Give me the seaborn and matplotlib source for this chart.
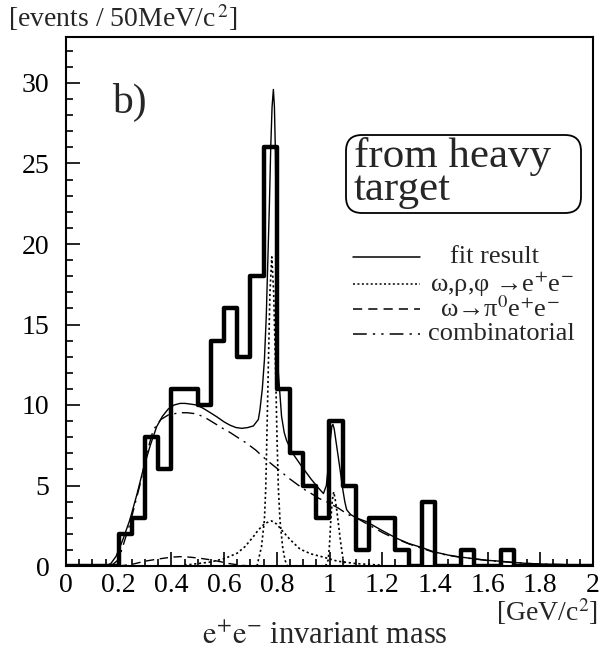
import numpy as np
import pandas as pd
import matplotlib
matplotlib.use("Agg")
import matplotlib.pyplot as plt
import seaborn as sns
from matplotlib.ticker import MultipleLocator
from matplotlib.patches import FancyBboxPatch

# ---------------- data ----------------
bin_lows = [0.00, 0.05, 0.10, 0.15, 0.20, 0.25, 0.30, 0.35, 0.40, 0.45,
            0.50, 0.55, 0.60, 0.65, 0.70, 0.75, 0.80, 0.85, 0.90, 0.95,
            1.00, 1.05, 1.10, 1.15, 1.20, 1.25, 1.30, 1.35, 1.40, 1.45,
            1.50, 1.55, 1.60, 1.65, 1.70, 1.75, 1.80, 1.85, 1.90, 1.95]
counts = [0, 0, 0, 0, 2, 3, 8, 6, 11, 11,
          10, 14, 16, 13, 18, 26, 11, 7, 5, 3,
          9, 5, 1, 3, 3, 1, 0, 4, 0, 0,
          1, 0, 0, 1, 0, 0, 0, 0, 0, 0]
bin_width = 0.05

fit_x = [0.15, 0.17, 0.19, 0.215, 0.243, 0.27, 0.293, 0.32, 0.344, 0.366,
         0.388, 0.41, 0.433, 0.452, 0.475, 0.496, 0.52, 0.545, 0.572, 0.60,
         0.622, 0.645, 0.667, 0.69, 0.711, 0.73, 0.736, 0.745, 0.753, 0.76,
         0.766, 0.772, 0.777, 0.782, 0.787, 0.791, 0.795, 0.797, 0.799, 0.802,
         0.806, 0.81, 0.818, 0.828, 0.837, 0.86, 0.894, 0.93, 0.955, 0.977,
         0.988, 0.996, 1.003, 1.009, 1.013, 1.018, 1.025, 1.033, 1.04, 1.05,
         1.058, 1.065, 1.08, 1.10, 1.141, 1.20, 1.255, 1.30, 1.35, 1.394,
         1.45, 1.50, 1.55, 1.60, 1.647, 1.70, 1.75, 1.80, 1.90, 2.00]
fit_y = [0.0, 0.15, 0.6, 1.6, 2.9, 4.5, 6.0, 7.5, 8.65, 9.3,
         9.75, 10.0, 10.1, 10.1, 10.05, 10.0, 9.8, 9.55, 9.27, 8.95,
         8.75, 8.6, 8.55, 8.6, 8.7, 9.1, 9.7, 11.0, 12.8, 15.5,
         19.0, 22.5, 26.0, 28.5, 29.6, 28.5, 25.5, 22.0, 19.0, 14.5,
         12.0, 11.1, 9.3, 8.3, 7.8, 7.0, 6.2, 5.4, 4.9, 4.5,
         5.0, 6.3, 7.8, 8.7, 8.8, 8.5, 7.7, 6.8, 6.0, 4.8,
         4.0, 3.5, 3.2, 3.0, 2.75, 2.2, 1.72, 1.4, 1.15, 0.89,
         0.68, 0.55, 0.45, 0.35, 0.30, 0.22, 0.16, 0.12, 0.08, 0.05]

comb_x = [0.17, 0.20, 0.243, 0.28, 0.31, 0.331, 0.36, 0.39, 0.433, 0.46,
          0.496, 0.53, 0.56, 0.60, 0.622, 0.65, 0.686, 0.72, 0.76, 0.80,
          0.85, 0.90, 0.926, 0.96, 1.00, 1.033, 1.07, 1.116, 1.16, 1.204,
          1.23, 1.30, 1.394, 1.45, 1.50, 1.60, 1.70, 1.80, 1.90, 2.00]
comb_y = [0.0, 0.4, 2.65, 5.0, 7.2, 8.45, 9.1, 9.4, 9.52, 9.52,
          9.45, 9.2, 8.9, 8.5, 8.3, 8.0, 7.62, 7.2, 6.6, 6.07,
          5.4, 4.8, 4.55, 4.2, 3.9, 3.6, 3.2, 2.86, 2.45, 2.05,
          1.85, 1.38, 0.86, 0.66, 0.53, 0.34, 0.21, 0.12, 0.08, 0.05]

rho_x = [0.45, 0.50, 0.55, 0.603, 0.65, 0.679, 0.71, 0.73, 0.755, 0.78,
         0.80, 0.818, 0.85, 0.888, 0.93, 0.977, 1.03, 1.10, 1.20]
rho_y = [0.05, 0.15, 0.25, 0.47, 0.8, 1.2, 1.8, 2.24, 2.65, 2.8,
         2.6, 2.24, 1.65, 1.05, 0.75, 0.55, 0.3, 0.15, 0.05]

omega_x = [0.725, 0.73, 0.742, 0.753, 0.758, 0.762, 0.768, 0.774, 0.781, 0.788,
           0.795, 0.801, 0.806, 0.812, 0.822, 0.831, 0.84]
omega_y = [0.0, 0.37, 1.2, 2.86, 4.8, 7.8, 12.5, 17.0, 19.2, 17.0,
           12.5, 7.8, 4.8, 2.86, 1.2, 0.37, 0.0]

phi_x = [0.985, 0.995, 1.00, 1.005, 1.01, 1.016, 1.022, 1.028, 1.034, 1.042, 1.052, 1.06]
phi_y = [0.0, 0.37, 1.3, 2.86, 4.0, 4.6, 4.1, 3.4, 2.6, 1.5, 0.37, 0.0]

dalitz_x = [0.20, 0.25, 0.30, 0.344, 0.40, 0.433, 0.47, 0.509, 0.55, 0.585, 0.62, 0.66, 0.70]
dalitz_y = [0.0, 0.1, 0.3, 0.42, 0.55, 0.58, 0.55, 0.48, 0.38, 0.27, 0.15, 0.05, 0.0]

x_ticks = [0, 0.2, 0.4, 0.6, 0.8, 1.0, 1.2, 1.4, 1.6, 1.8, 2.0]
x_tick_labels = ["0", "0.2", "0.4", "0.6", "0.8", "1", "1.2", "1.4", "1.6", "1.8", "2"]
y_ticks = [0, 5, 10, 15, 20, 25, 30]
y_tick_labels = ["0", "5", "10", "15", "20", "25", "30"]

legend_labels = ["fit result",
                 "ω,ρ,φ →e$^{+}$e$^{-}$",
                 "ω→π$^{0}$e$^{+}$e$^{-}$",
                 "combinatorial"]
box_text = "from heavy\ntarget"

# ---------------- style ----------------
sns.set_theme(style="ticks")
plt.rcParams["font.family"] = ["Liberation Serif", "DejaVu Serif"]
plt.rcParams["mathtext.fontset"] = "stix"

W, H = 601, 651
fig = plt.figure(figsize=(W / 100, H / 100), dpi=100)
ax_l, ax_r, ax_t, ax_b = 66, 593, 37, 566
ax = fig.add_axes([ax_l / W, 1 - ax_b / H, (ax_r - ax_l) / W, (ax_b - ax_t) / H])

hist_df = pd.DataFrame({"center": np.array(bin_lows) + bin_width / 2, "n": counts})
edges = list(bin_lows) + [bin_lows[-1] + bin_width]
sns.histplot(data=hist_df, x="center", weights="n", bins=edges, element="step",
             fill=False, color="black", linewidth=3.2, ax=ax)

dot = (0, (1.3, 1.6))
sns.lineplot(x=comb_x, y=comb_y, color="black", linewidth=1.0, ax=ax,
             estimator=None, sort=False, linestyle=(0, (9, 4, 1.5, 4)))
sns.lineplot(x=dalitz_x, y=dalitz_y, color="black", linewidth=1.0, ax=ax,
             estimator=None, sort=False, linestyle=(0, (6, 4)))
for xs, ys in [(rho_x, rho_y), (omega_x, omega_y), (phi_x, phi_y)]:
    sns.lineplot(x=xs, y=ys, color="black", linewidth=1.2, ax=ax,
                 estimator=None, sort=False, linestyle=dot)
sns.lineplot(x=fit_x, y=fit_y, color="black", linewidth=1.0, ax=ax,
             estimator=None, sort=False)

ax.set_xlim(0, 2)
ax.set_ylim(0, (ax_b - ax_t) / 16.1)
ax.set_xlabel("")
ax.set_ylabel("")
ax.set_xticks(x_ticks)
ax.set_xticklabels(x_tick_labels)
ax.set_yticks(y_ticks)
ax.set_yticklabels(y_tick_labels)
ax.xaxis.set_minor_locator(MultipleLocator(0.05))
ax.yaxis.set_minor_locator(MultipleLocator(1))
ax.tick_params(which="both", direction="in", colors="black", width=1.2,
               labelsize=20)
ax.tick_params(which="major", length=10)
ax.tick_params(which="minor", length=5)
ax.tick_params(axis="x", pad=5)
ax.tick_params(axis="y", pad=12)
for s in ax.spines.values():
    s.set_visible(True)
    s.set_color("black")
    s.set_linewidth(1.5)

def ax_xy(px, py):
    return (px - ax_l) / (ax_r - ax_l), (ax_b - py) / (ax_b - ax_t)

def fig_xy(px, py):
    return px / W, 1 - py / H

# panel tag
ax.text(*ax_xy(112, 113), "b)", transform=ax.transAxes, fontsize=30,
        ha="left", va="baseline")

# boxed label (rounded frame drawn in pixel units)
bx0, by0, bx1, by1 = 346, 135, 581, 213
frame = FancyBboxPatch((bx0 / 100, (H - by1) / 100), (bx1 - bx0) / 100,
                       (by1 - by0) / 100,
                       boxstyle="round,pad=0,rounding_size=0.16",
                       transform=fig.dpi_scale_trans, fc="white", ec="black",
                       lw=1.3, zorder=5)
fig.add_artist(frame)
fig.text(*fig_xy(354, 173), box_text, fontsize=31, ha="left",
         va="center", linespacing=0.84, zorder=6)

# legend
rows = [257, 284, 309, 334]
styles = ["-", dot, (0, (6, 4)), (0, (9, 4, 1.5, 4, 1.5, 4))]
text_left = [450, 430, 440, 428]
for r, st, lab, tl in zip(rows, styles, legend_labels, text_left):
    x0, y0 = ax_xy(353, r)
    x1, _ = ax_xy(420, r)
    ax.plot([x0, x1], [y0, y0], transform=ax.transAxes, color="black",
            lw=1.1, linestyle=st)
    ax.text(*ax_xy(tl, r), lab, transform=ax.transAxes, fontsize=19,
            ha="left", va="center")

# axis titles
fig.text(*fig_xy(8, 18), "[events / 50MeV/c$^{\\,2}$]", fontsize=20,
         ha="left", va="center")
fig.text(*fig_xy(598, 612), "[GeV/c$^{2}$]", fontsize=20,
         ha="right", va="center")
fig.text(*fig_xy(325, 636), r"$\mathrm{e^{+}e^{-}}$ invariant mass",
         fontsize=22, ha="center", va="center")

fig.savefig("out.png", dpi=100)
